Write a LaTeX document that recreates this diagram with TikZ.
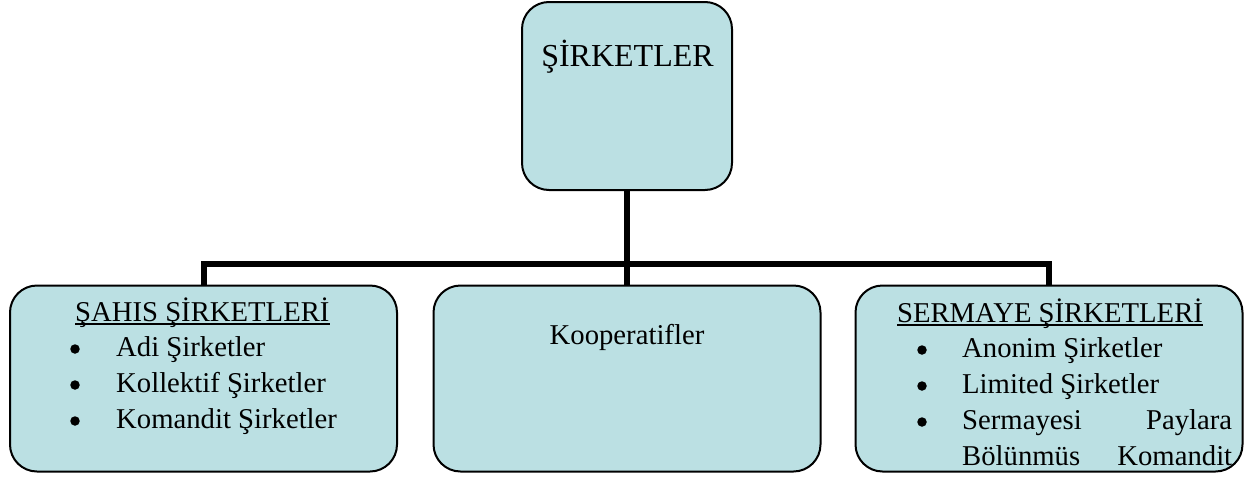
\documentclass[tikz,border=0pt]{standalone}
\usepackage{fontspec}
\setmainfont{Liberation Serif}
\usetikzlibrary{backgrounds}
\definecolor{boxfill}{RGB}{187,224,227}
\newcommand{\myul}[1]{\setbox0\hbox{#1}\rlap{\rule[-3.5pt]{\wd0}{1.3pt}}\box0}
\tikzset{
  orgbox/.style={draw=black, line width=2pt, fill=boxfill, rounded corners=27pt, inner sep=0pt, minimum width=387pt, minimum height=186pt},
  conn/.style={draw=black, line width=6pt},
  txt/.style={inner sep=0pt, anchor=base west, font=\fontsize{28.7}{34}\selectfont},
  ctxt/.style={txt, anchor=base},
  bul/.style={circle, fill=black, inner sep=0pt, minimum size=9.5pt}
}
\begin{document}
\begin{tikzpicture}[x=1pt,y=-1pt]
\useasboundingbox (0,0) rectangle (1253,477);
\coordinate (bar) at (627,264);
% boxes
\node[orgbox, minimum width=210pt, minimum height=188pt] (top) at (627,96) {};
\node[orgbox] (left) at (203.5,378.5) {};
\node[orgbox] (mid) at (627,378.5) {};
\node[orgbox] (right) at (1049,378.5) {};
% connectors
\begin{pgfonlayer}{background}
\draw[conn] (top.south) -- (mid.north);
\draw[conn] (left.north) -- (left.north |- bar) -- (right.north |- bar) -- (right.north);
\end{pgfonlayer}
% title
\node[ctxt, font=\fontsize{32}{38}\selectfont] (t0) at (627.5,66) {ŞİRKETLER};
% left box
\node[txt] (h1) at (75,321) {\myul{ŞAHIS ŞİRKETLERİ}};
\node[bul] (b11) at (75,349) {};
\node[txt] (l11) at (116,356) {Adi Şirketler};
\node[bul] (b12) at (75,385) {};
\node[txt] (l12) at (116,392) {Kollektif Şirketler};
\node[bul] (b13) at (75,421) {};
\node[txt] (l13) at (116,428) {Komandit Şirketler};
% middle box
\node[ctxt] (m1) at (627,344) {Kooperatifler};
% right box
\node[ctxt] (h3) at (1050,322) {\myul{SERMAYE ŞİRKETLERİ}};
\node[bul] (b31) at (922,350) {};
\node[txt] (l31) at (962,357) {Anonim Şirketler};
\node[bul] (b32) at (922,386) {};
\node[txt] (l32) at (962,393) {Limited Şirketler};
\node[bul] (b33) at (922,422) {};
\node[txt] (l33) at (962,429) {\hbox to 270pt{Sermayesi\hfill Paylara}};
\node[txt] (l34) at (962,465) {\hbox to 270pt{Bölünmüs\hfill Komandit}};
\end{tikzpicture}
\end{document}
